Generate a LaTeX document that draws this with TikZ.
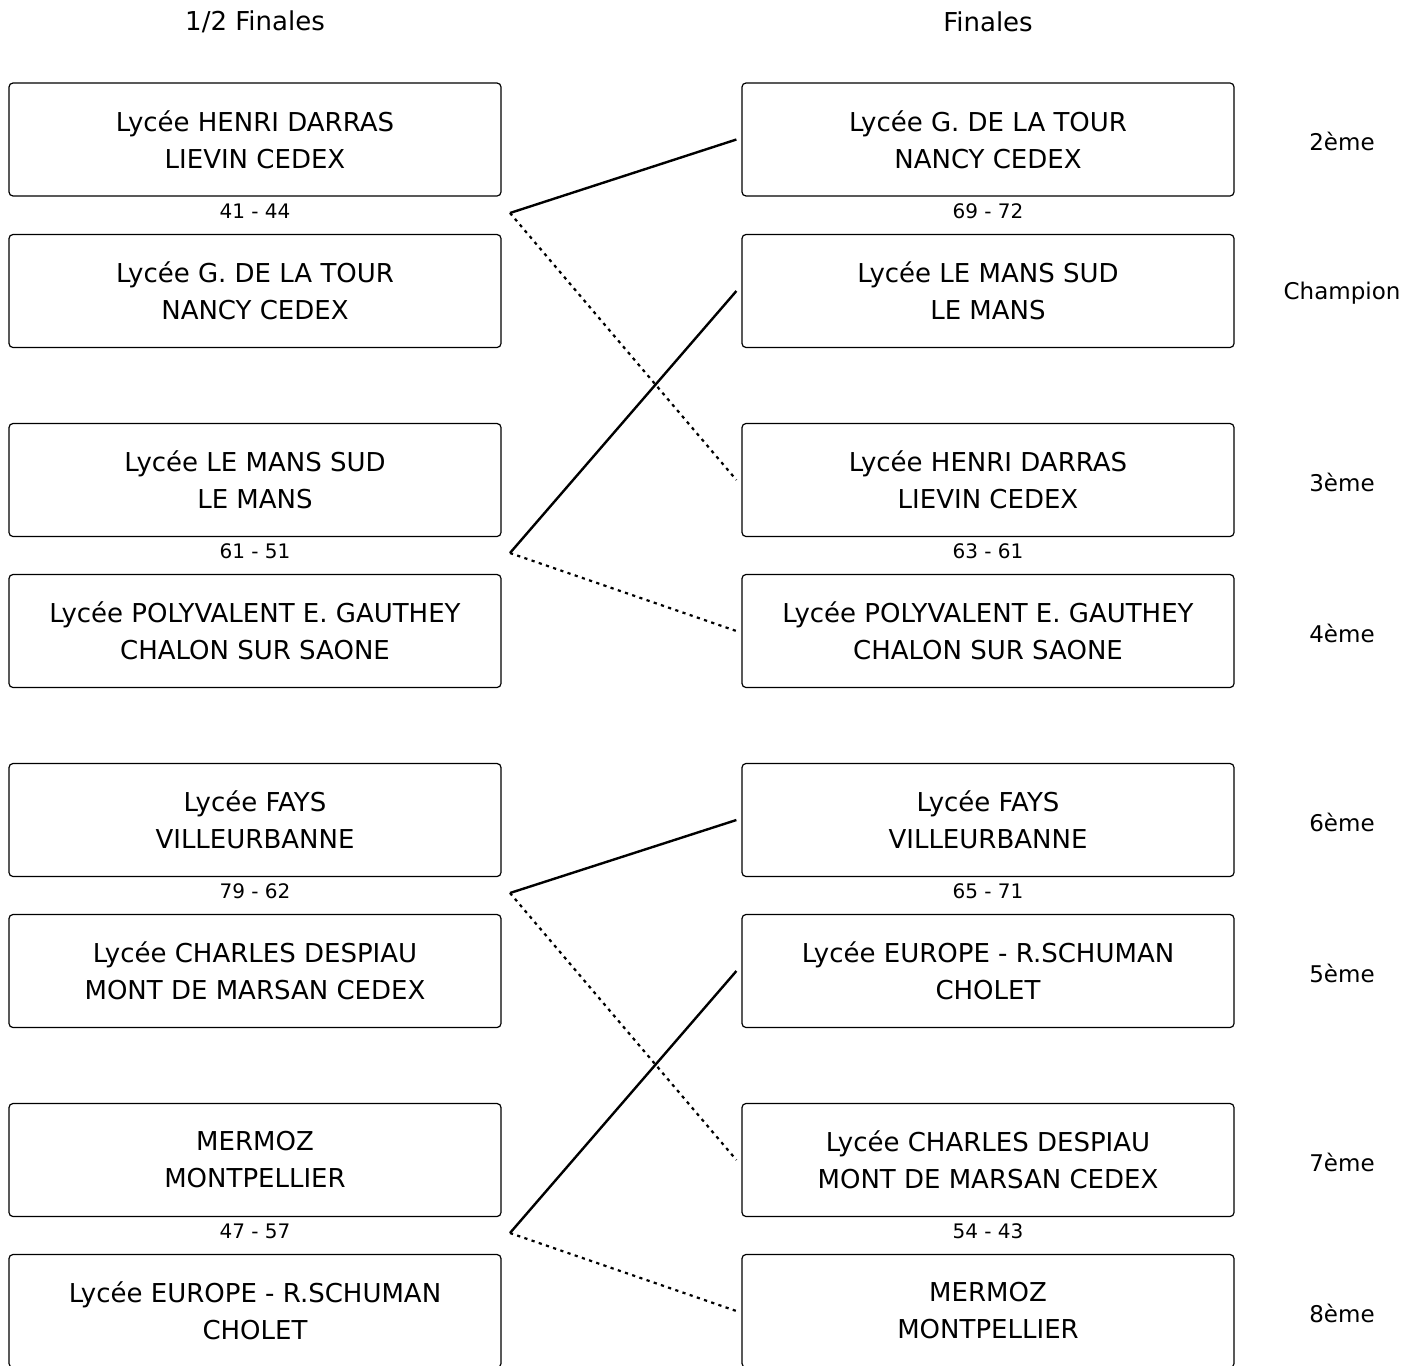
\documentclass[tikz,border=0pt]{standalone}
\usepackage{fontspec}
\setmainfont{DejaVu Sans}
\usepackage{tikz}
\usetikzlibrary{calc}

\begin{document}
\begin{tikzpicture}[x=0.5pt,y=-0.5pt]
    \tikzstyle{every node}=[font=\fontsize{13}{18.5}\selectfont]
    \tikzstyle{team}=[draw, rounded corners=2pt, line width=0.6pt, minimum width=246pt, minimum height=56.5pt, align=center, inner sep=0pt]
    \tikzstyle{score}=[font=\fontsize{10}{12}\selectfont]
    \tikzstyle{rank}=[font=\fontsize{11.5}{14}\selectfont]
    \tikzstyle{won}=[line width=1.2pt]
    \tikzstyle{lost}=[line width=1.1pt, dash pattern=on 1.6pt off 2.2pt]
    \useasboundingbox (0,0) rectangle (1418,1365);

    % headers
    \node (hdemi) at (255,22) {1/2 Finales};
    \node (hfinale) at (988,22) {Finales};

    % demi-finales
    \node[team] (d1) at (255,139.5) {Lycée HENRI DARRAS\\LIEVIN CEDEX};
    \node[team] (d2) at (255,291) {Lycée G. DE LA TOUR\\NANCY CEDEX};
    \node[team] (d3) at (255,480) {Lycée LE MANS SUD\\LE MANS};
    \node[team] (d4) at (255,631) {Lycée POLYVALENT E. GAUTHEY\\CHALON SUR SAONE};
    \node[team] (d5) at (255,820) {Lycée FAYS\\VILLEURBANNE};
    \node[team] (d6) at (255,971) {Lycée CHARLES DESPIAU\\MONT DE MARSAN CEDEX};
    \node[team] (d7) at (255,1160) {MERMOZ\\MONTPELLIER};
    \node[team] (d8) at (255,1311) {Lycée EUROPE - R.SCHUMAN\\CHOLET};

    \node[score] (sd1) at (255,211) {41 - 44};
    \node[score] (sd2) at (255,551) {61 - 51};
    \node[score] (sd3) at (255,891) {79 - 62};
    \node[score] (sd4) at (255,1231) {47 - 57};

    % finales
    \node[team] (f1) at (988,139.5) {Lycée G. DE LA TOUR\\NANCY CEDEX};
    \node[team] (f2) at (988,291) {Lycée LE MANS SUD\\LE MANS};
    \node[team] (f3) at (988,480) {Lycée HENRI DARRAS\\LIEVIN CEDEX};
    \node[team] (f4) at (988,631) {Lycée POLYVALENT E. GAUTHEY\\CHALON SUR SAONE};
    \node[team] (f5) at (988,820) {Lycée FAYS\\VILLEURBANNE};
    \node[team] (f6) at (988,971) {Lycée EUROPE - R.SCHUMAN\\CHOLET};
    \node[team] (f7) at (988,1160) {Lycée CHARLES DESPIAU\\MONT DE MARSAN CEDEX};
    \node[team] (f8) at (988,1311) {MERMOZ\\MONTPELLIER};

    \node[score] (sf1) at (988,211) {69 - 72};
    \node[score] (sf2) at (988,551) {63 - 61};
    \node[score] (sf3) at (988,891) {65 - 71};
    \node[score] (sf4) at (988,1231) {54 - 43};

    % classement
    \node[rank] (r1) at (1342,141) {2ème};
    \node[rank] (r2) at (1342,293) {Champion};
    \node[rank] (r3) at (1342,482) {3ème};
    \node[rank] (r4) at (1342,633) {4ème};
    \node[rank] (r5) at (1342,822) {6ème};
    \node[rank] (r6) at (1342,973) {5ème};
    \node[rank] (r7) at (1342,1162) {7ème};
    \node[rank] (r8) at (1342,1313) {8ème};

    % liaisons
    \coordinate (m1) at (510,213);
    \coordinate (m2) at (510,553);
    \coordinate (m3) at (510,893);
    \coordinate (m4) at (510,1233);
    \draw[won] (m1) -- ($(f1.west)+(-5,0)$);
    \draw[lost] (m1) -- ($(f3.west)+(-5,0)$);
    \draw[won] (m2) -- ($(f2.west)+(-5,0)$);
    \draw[lost] (m2) -- ($(f4.west)+(-5,0)$);
    \draw[won] (m3) -- ($(f5.west)+(-5,0)$);
    \draw[lost] (m3) -- ($(f7.west)+(-5,0)$);
    \draw[won] (m4) -- ($(f6.west)+(-5,0)$);
    \draw[lost] (m4) -- ($(f8.west)+(-5,0)$);
\end{tikzpicture}
\end{document}
